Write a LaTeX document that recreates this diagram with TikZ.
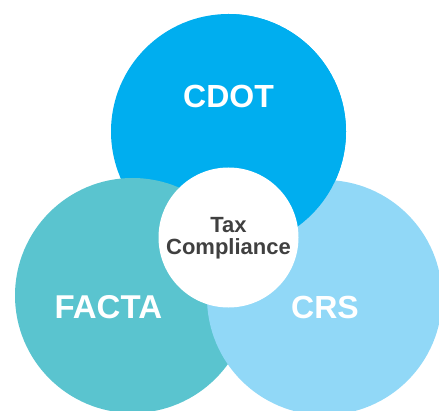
\documentclass[tikz,border=0pt]{standalone}
\usepackage{fontspec}
\setmainfont{Liberation Sans}
\definecolor{cdotblue}{HTML}{00AEEF}
\definecolor{factateal}{HTML}{5AC4CF}
\definecolor{crslight}{HTML}{91D8F7}
\definecolor{textgray}{HTML}{404040}
\begin{document}
\begin{tikzpicture}[x=1pt,y=1pt,
  bigcirc/.style={circle,inner sep=0pt,minimum size=235pt,draw=none},
  biglabel/.style={text=white,font=\fontsize{32}{36}\selectfont\bfseries,inner sep=0pt},
  centerlabel/.style={text=textgray,font=\fontsize{22}{22}\selectfont\bfseries,align=center,inner sep=0pt}]
\useasboundingbox (0,0) rectangle (439,410);
\clip (0,0) rectangle (439,410);
\node[bigcirc,fill=cdotblue] (cdot) at (228.5,278.5) {};
\node[bigcirc,fill=factateal] (facta) at (132.5,114.5) {};
\node[bigcirc,fill=crslight] (crs) at (324.5,112.5) {};
\begin{scope}
  \clip (228.5,0) rectangle (439,410);
  \fill[cdotblue] (cdot.center) circle (117.5);
\end{scope}
\node[circle,inner sep=0pt,minimum size=140pt,fill=white] (tax) at (228.5,172.5) {};
\node[biglabel] (cdotlabel) at (228.5,313.3) {CDOT};
\node[biglabel,font=\fontsize{33}{36}\selectfont\bfseries] (factalabel) at (108.3,103) {FACTA};
\node[biglabel] (crslabel) at (325,103) {CRS};
\node[centerlabel] (taxlabel) at (228.5,172) {Tax\\Compliance};
\end{tikzpicture}
\end{document}
